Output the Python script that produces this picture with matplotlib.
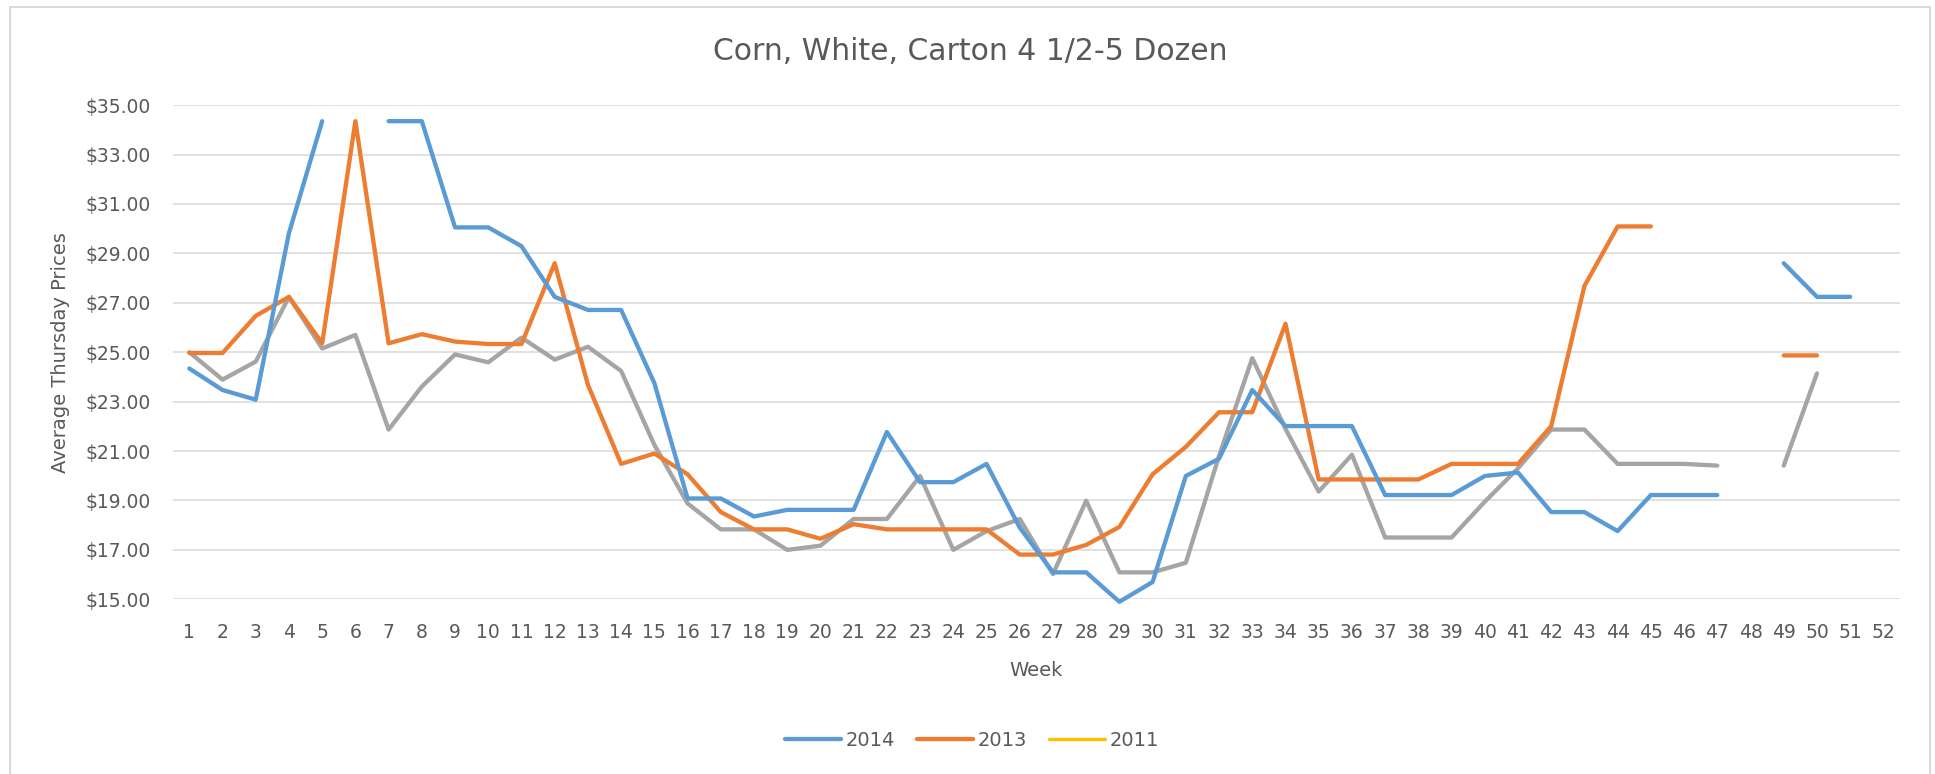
import numpy as np
import matplotlib
matplotlib.use("Agg")
import matplotlib.pyplot as plt
from matplotlib.patches import Rectangle
from matplotlib.ticker import FuncFormatter

nan = np.nan

weeks = list(range(1, 53))

prices_2014 = [24.34, 23.47, 23.08, 29.82, 34.35, nan, 34.35, 34.35, 30.05, 30.05,
               29.29, 27.24, 26.71, 26.71, 23.75, 19.08, 19.08, 18.35, 18.62, 18.62,
               18.62, 21.77, 19.74, 19.74, 20.48, 17.90, 16.09, 16.09, 14.90, 15.70,
               19.99, 20.69, 23.47, 22.01, 22.01, 22.01, 19.22, 19.22, 19.22, 19.99,
               20.13, 18.53, 18.53, 17.76, 19.22, 19.22, 19.22, nan, 28.60, 27.24,
               27.24, nan]

prices_2013 = [24.97, 24.97, 26.47, 27.24, 25.36, 34.35, 25.36, 25.73, 25.43, 25.33,
               25.33, 28.60, 23.68, 20.48, 20.90, 20.06, 18.53, 17.83, 17.83, 17.45,
               18.04, 17.83, 17.83, 17.83, 17.83, 16.81, 16.81, 17.20, 17.93, 20.06,
               21.17, 22.57, 22.57, 26.15, 19.85, 19.85, 19.85, 19.85, 20.48, 20.48,
               20.48, 22.01, 27.68, 30.09, 30.09, nan, nan, nan, 24.87, 24.87,
               nan, nan]

# grey series is drawn on the chart but not listed in the legend
prices_unlabeled = [25.00, 23.89, 24.62, 27.24, 25.15, 25.70, 21.87, 23.61, 24.91, 24.59,
                    25.59, 24.70, 25.22, 24.24, 21.25, 18.88, 17.83, 17.83, 17.00, 17.17,
                    18.25, 18.25, 19.99, 17.00, 17.76, 18.25, 16.02, 18.99, 16.09, 16.09,
                    16.48, 20.80, 24.76, 21.90, 19.36, 20.85, 17.50, 17.50, 17.50, 18.95,
                    20.30, 21.87, 21.87, 20.48, 20.48, 20.48, 20.41, nan, 20.41, 24.14,
                    nan, nan]

prices_2011 = [nan] * 52

title = "Corn, White, Carton 4 1/2-5 Dozen"
text_color = "#595959"
grid_color = "#D9D9D9"

W, H = 1935, 774
fig = plt.figure(figsize=(W / 100, H / 100), dpi=100)
fig.patch.set_facecolor("white")

# chart area border (bottom edge falls outside the image)
fig.patches.append(Rectangle((10 / W, -0.05), 1920 / W, 1.05 - 6.7 / H,
                             transform=fig.transFigure, fill=False,
                             edgecolor=grid_color, linewidth=1.4))

left, right = 172.7 / W, 1900 / W
top, bottom = 1 - 105.1 / H, 1 - 599.3 / H
ax = fig.add_axes([left, bottom, right - left, top - bottom])

line_kw = dict(linewidth=3.1, solid_capstyle="round", solid_joinstyle="round", clip_on=False)
ax.plot(weeks, prices_unlabeled, color="#A5A5A5", label="_nolegend_", zorder=3, **line_kw)
ax.plot(weeks, prices_2013, color="#ED7D31", label="2013", zorder=4, **line_kw)
ax.plot(weeks, prices_2014, color="#5B9BD5", label="2014", zorder=5, **line_kw)
ax.plot(weeks, prices_2011, color="#FFC000", label="2011", linewidth=2.4,
        solid_capstyle="round")

ax.set_xlim(0.5, 52.5)
ax.set_ylim(15, 35)
ax.set_yticks(np.arange(15, 36, 2))
ax.yaxis.set_major_formatter(FuncFormatter(lambda v, p: f"${v:.2f}"))
ax.set_xticks(weeks)
ax.set_xticklabels([str(w) for w in weeks])

ax.grid(axis="y", color=grid_color, linewidth=1.1)
ax.set_axisbelow(True)
for s in ax.spines.values():
    s.set_visible(False)
ax.tick_params(axis="both", length=0, labelsize=13.5, labelcolor=text_color)
ax.tick_params(axis="x", pad=17)
ax.tick_params(axis="y", pad=16)

ax.set_xlabel("Week", fontsize=14, color=text_color, labelpad=14)
ax.set_ylabel("Average Thursday Prices", fontsize=14, color=text_color, labelpad=11)

fig.text(970 / W, 1 - 52 / H, title, ha="center", va="center",
         fontsize=21.5, color=text_color)

handles, labels = ax.get_legend_handles_labels()
order = [labels.index(l) for l in ["2014", "2013", "2011"]]
leg = fig.legend([handles[i] for i in order], [labels[i] for i in order],
                 loc="center", bbox_to_anchor=(972 / W, 1 - 740 / H), ncol=3,
                 frameon=False, fontsize=14, handlelength=2.9, handletextpad=0.25,
                 columnspacing=1.1)
for t in leg.get_texts():
    t.set_color(text_color)

fig.savefig("out.png", dpi=100, facecolor="white")
